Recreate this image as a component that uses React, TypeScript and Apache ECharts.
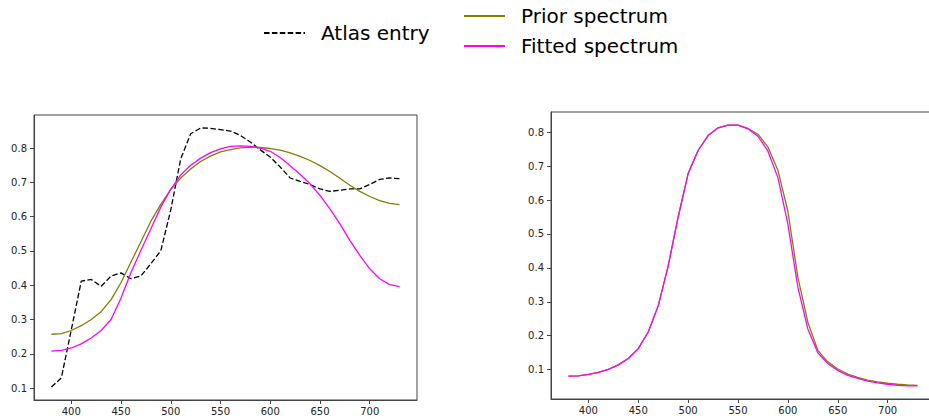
import React, { useEffect, useRef } from "react";
import * as echarts from "echarts";

const wavelengths = [380, 390, 400, 410, 420, 430, 440, 450, 460, 470, 480, 490, 500, 510, 520, 530, 540, 550, 560, 570, 580, 590, 600, 610, 620, 630, 640, 650, 660, 670, 680, 690, 700, 710, 720, 730];

const atlasEntry = [0.103, 0.130, 0.270, 0.412, 0.417, 0.397, 0.427, 0.436, 0.419, 0.427, 0.463, 0.501, 0.620, 0.769, 0.842, 0.859, 0.858, 0.854, 0.850, 0.837, 0.818, 0.795, 0.774, 0.745, 0.713, 0.703, 0.694, 0.681, 0.674, 0.677, 0.681, 0.681, 0.694, 0.709, 0.713, 0.711];

const priorLeft = [0.257, 0.259, 0.268, 0.282, 0.300, 0.323, 0.358, 0.408, 0.468, 0.527, 0.587, 0.636, 0.680, 0.713, 0.739, 0.761, 0.777, 0.789, 0.796, 0.801, 0.803, 0.802, 0.799, 0.794, 0.786, 0.776, 0.764, 0.749, 0.732, 0.712, 0.692, 0.674, 0.659, 0.647, 0.639, 0.635];

const fittedLeft = [0.208, 0.210, 0.217, 0.229, 0.246, 0.268, 0.300, 0.363, 0.437, 0.502, 0.565, 0.628, 0.680, 0.722, 0.750, 0.771, 0.787, 0.798, 0.805, 0.807, 0.805, 0.800, 0.791, 0.773, 0.749, 0.724, 0.696, 0.662, 0.623, 0.579, 0.531, 0.487, 0.448, 0.419, 0.402, 0.396];

const priorRight = [0.081, 0.082, 0.086, 0.092, 0.101, 0.114, 0.133, 0.162, 0.211, 0.288, 0.406, 0.550, 0.678, 0.746, 0.790, 0.813, 0.821, 0.821, 0.811, 0.794, 0.756, 0.688, 0.567, 0.373, 0.240, 0.157, 0.123, 0.102, 0.087, 0.077, 0.069, 0.064, 0.060, 0.057, 0.055, 0.054];

const fittedRight = [0.081, 0.082, 0.086, 0.092, 0.101, 0.114, 0.133, 0.162, 0.211, 0.288, 0.406, 0.550, 0.678, 0.746, 0.790, 0.813, 0.821, 0.821, 0.810, 0.788, 0.744, 0.666, 0.529, 0.343, 0.220, 0.150, 0.118, 0.098, 0.083, 0.074, 0.066, 0.061, 0.057, 0.054, 0.052, 0.052];

const xTicks = [400, 450, 500, 550, 600, 650, 700];
const yTicks = [0.1, 0.2, 0.3, 0.4, 0.5, 0.6, 0.7, 0.8];

const FONT = "DejaVu Sans";
const AXIS_COLOR = "#444";
const LABEL_COLOR = "#222";

function padded(arrs: number[][]): [number, number] {
  const all = arrs.flat();
  const lo = Math.min(...all);
  const hi = Math.max(...all);
  const p = (hi - lo) * 0.05;
  return [lo - p, hi + p];
}

function pairs(ys: number[]) {
  return wavelengths.map((w, i) => [w, ys[i]]);
}

export default function App() {
  const ref = useRef<HTMLDivElement>(null);
  useEffect(() => {
    if (!ref.current) return;
    const chart = echarts.init(ref.current, undefined, { renderer: "svg" });
    const [xMin, xMax] = padded([wavelengths]);
    const [yMinL, yMaxL] = padded([atlasEntry, priorLeft, fittedLeft]);
    const [yMinR, yMaxR] = padded([priorRight, fittedRight]);

    const xAxisBase = (gridIndex: number) => ({
      type: "value",
      gridIndex,
      min: xMin,
      max: xMax,
      axisLine: { show: true, onZero: false, lineStyle: { color: AXIS_COLOR, width: 1 } },
      axisTick: { show: true, inside: false, length: 4, customValues: xTicks, lineStyle: { color: AXIS_COLOR, width: 1 } },
      axisLabel: { show: true, customValues: xTicks, margin: 6, color: LABEL_COLOR, fontSize: 10, fontFamily: FONT },
      splitLine: { show: false },
    });
    const yAxisBase = (gridIndex: number, min: number, max: number) => ({
      type: "value",
      gridIndex,
      min,
      max,
      axisLine: { show: true, onZero: false, lineStyle: { color: AXIS_COLOR, width: 1 } },
      axisTick: { show: true, inside: false, length: 4, customValues: yTicks, lineStyle: { color: AXIS_COLOR, width: 1 } },
      axisLabel: { show: true, customValues: yTicks, margin: 7, color: LABEL_COLOR, fontSize: 10, fontFamily: FONT, formatter: (v: number) => v.toFixed(1) },
      splitLine: { show: false },
    });

    const legendBase = {
      orient: "horizontal",
      padding: 0,
      itemWidth: 41,
      itemHeight: 10,
      selectedMode: false,
      itemStyle: { opacity: 0 },
      textStyle: { fontSize: 20, fontFamily: FONT, color: "#000", padding: [0, 0, 0, 11] },
    };

    chart.setOption({
      animation: false,
      backgroundColor: "#fff",
      legend: [
        { ...legendBase, data: ["Atlas entry"], left: 263, top: 23 },
        { ...legendBase, data: ["Prior spectrum"], left: 463, top: 6 },
        { ...legendBase, data: ["Fitted spectrum"], left: 463, top: 36 },
      ],
      grid: [
        { left: 34, top: 115, width: 383, height: 285, show: true, borderColor: AXIS_COLOR, borderWidth: 1, backgroundColor: "transparent", containLabel: false, outerBoundsMode: "none" },
        { left: 551, top: 112, width: 384, height: 287, show: true, borderColor: AXIS_COLOR, borderWidth: 1, backgroundColor: "transparent", containLabel: false, outerBoundsMode: "none" },
      ],
      xAxis: [xAxisBase(0), xAxisBase(1)],
      yAxis: [yAxisBase(0, yMinL, yMaxL), yAxisBase(1, yMinR, yMaxR)],
      series: [
        {
          name: "Atlas entry",
          type: "line",
          xAxisIndex: 0,
          yAxisIndex: 0,
          data: pairs(atlasEntry),
          symbol: "none",
          color: "#000",
          lineStyle: { color: "#000", width: 1.3, type: [5.5, 2.4] },
        },
        {
          name: "Prior spectrum",
          type: "line",
          xAxisIndex: 0,
          yAxisIndex: 0,
          data: pairs(priorLeft),
          symbol: "none",
          color: "#808000",
          lineStyle: { color: "#808000", width: 1.3 },
        },
        {
          name: "Fitted spectrum",
          type: "line",
          xAxisIndex: 0,
          yAxisIndex: 0,
          data: pairs(fittedLeft),
          symbol: "none",
          color: "#ff00ff",
          lineStyle: { color: "#ff00ff", width: 1.3 },
        },
        {
          name: "Prior spectrum",
          type: "line",
          xAxisIndex: 1,
          yAxisIndex: 1,
          data: pairs(priorRight),
          symbol: "none",
          color: "#808000",
          lineStyle: { color: "#808000", width: 1.3 },
        },
        {
          name: "Fitted spectrum",
          type: "line",
          xAxisIndex: 1,
          yAxisIndex: 1,
          data: pairs(fittedRight),
          symbol: "none",
          color: "#ff00ff",
          lineStyle: { color: "#ff00ff", width: 1.3 },
        },
      ],
    });
    return () => chart.dispose();
  }, []);
  return <div ref={ref} style={{ position: "absolute", left: 0, top: 0, width: 929, height: 419 }} />;
}
